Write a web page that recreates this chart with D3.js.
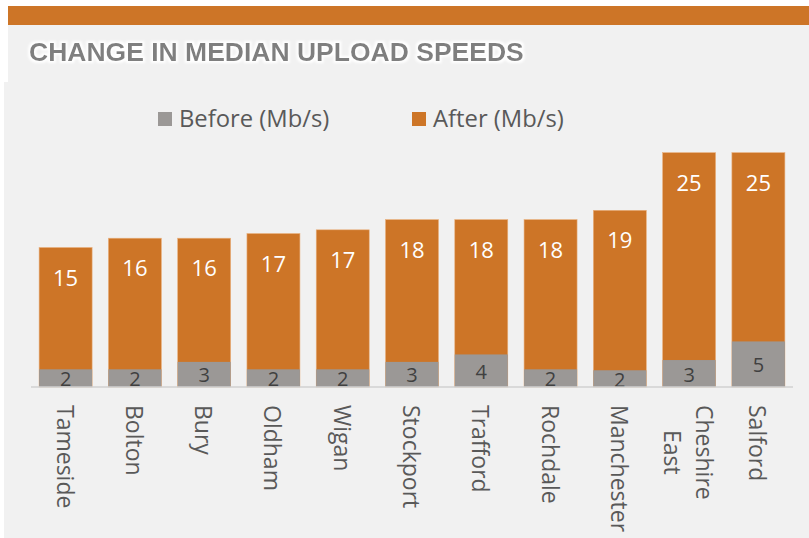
<!DOCTYPE html>
<html>
<head>
<meta charset="utf-8">
<script src="https://cdn.jsdelivr.net/npm/d3@7"></script>
<style>
  html, body { margin: 0; padding: 0; background: #fff; }
  svg { display: block; }
</style>
</head>
<body>
<div id="chart"></div>
<script>
const WIDTH = 809;
const HEIGHT = 538;

const areas = ['Tameside', 'Bolton', 'Bury', 'Oldham', 'Wigan', 'Stockport',
  'Trafford', 'Rochdale', 'Manchester', 'Cheshire East', 'Salford'];
const before = [1.9, 1.9, 2.7, 1.9, 1.9, 2.7, 3.5, 1.9, 1.8, 2.9, 4.9];
const after = [15.0, 16.0, 16.0, 16.5, 16.9, 18.0, 18.0, 18.0, 19.0, 25.2, 25.2];
const seriesNames = ['Before (Mb/s)', 'After (Mb/s)'];
const title = 'CHANGE IN MEDIAN UPLOAD SPEEDS';

const ORANGE = '#cd7527';
const GREY = '#9b9896';
const PANEL = '#f1f1f1';
const FONT = "'Open Sans', 'Noto Sans', sans-serif";

const rows = areas.map((name, i) => ({ name, before: before[i], after: after[i] }));

const svg = d3.select('#chart').append('svg')
  .attr('width', WIDTH)
  .attr('height', HEIGHT);

// header: orange strip + title panel
svg.append('rect').attr('x', 8).attr('y', 6).attr('width', WIDTH - 8).attr('height', 19).attr('fill', ORANGE);
svg.append('rect').attr('x', 8).attr('y', 25).attr('width', WIDTH - 8).attr('height', 57).attr('fill', PANEL);

const defs = svg.append('defs');
const glow = defs.append('filter').attr('id', 'glow').attr('x', '-5%').attr('y', '-30%').attr('width', '110%').attr('height', '160%');
glow.append('feMorphology').attr('in', 'SourceAlpha').attr('operator', 'dilate').attr('radius', 1.5).attr('result', 'd');
glow.append('feGaussianBlur').attr('in', 'd').attr('stdDeviation', 1.2).attr('result', 'b');
glow.append('feFlood').attr('flood-color', '#ffffff');
glow.append('feComposite').attr('in2', 'b').attr('operator', 'in').attr('result', 's');
const merge = glow.append('feMerge');
merge.append('feMergeNode').attr('in', 's');
merge.append('feMergeNode').attr('in', 'SourceGraphic');

svg.append('text')
  .attr('x', 29).attr('y', 61)
  .attr('font-family', "'Liberation Sans', Arial, sans-serif")
  .attr('font-weight', 'bold')
  .attr('font-size', 26.5)
  .attr('fill', '#7f7f7f')
  .attr('filter', 'url(#glow)')
  .text(title);

// chart panel
svg.append('rect').attr('x', 4).attr('y', 82).attr('width', WIDTH - 4).attr('height', HEIGHT - 82).attr('fill', PANEL);

const x = d3.scaleBand()
  .domain(areas)
  .range([31, 793])
  .paddingInner(0.235)
  .paddingOuter(0.117);

const y = d3.scaleLinear()
  .domain([0, 30])
  .range([387, 108]);

// legend
const legend = svg.append('g').attr('font-family', FONT).attr('font-size', 23.8).attr('fill', '#595959');
const legendX = [158, 412];
seriesNames.forEach((s, i) => {
  const g = legend.append('g').attr('transform', `translate(${legendX[i]},112)`);
  g.append('rect').attr('width', 14).attr('height', 14).attr('fill', i === 0 ? GREY : ORANGE);
  g.append('text').attr('x', 21).attr('y', 15).text(s);
});

// bars
const bars = svg.append('g');
bars.selectAll('rect.after')
  .data(rows)
  .join('rect')
  .attr('class', 'after')
  .attr('x', d => x(d.name))
  .attr('width', x.bandwidth())
  .attr('y', d => y(d.after))
  .attr('height', d => y(0) - y(d.after))
  .attr('fill', ORANGE)
  .attr('stroke', '#e9b17f')
  .attr('stroke-width', 0.6);

bars.selectAll('rect.before')
  .data(rows)
  .join('rect')
  .attr('class', 'before')
  .attr('x', d => x(d.name))
  .attr('width', x.bandwidth())
  .attr('y', d => y(d.before))
  .attr('height', d => y(0) - y(d.before))
  .attr('fill', GREY);

// value labels
bars.selectAll('text.after')
  .data(rows)
  .join('text')
  .attr('class', 'after')
  .attr('x', d => x(d.name) + x.bandwidth() / 2)
  .attr('y', d => y(d.after) + 38)
  .attr('text-anchor', 'middle')
  .attr('font-family', FONT)
  .attr('font-size', 22)
  .attr('fill', '#ffffff')
  .text(d => d.after.toFixed(0));

defs.append('clipPath').attr('id', 'plotclip')
  .append('rect').attr('x', 0).attr('y', 0).attr('width', WIDTH).attr('height', y(0));

bars.append('g').attr('clip-path', 'url(#plotclip)')
  .selectAll('text')
  .data(rows)
  .join('text')
  .attr('x', d => x(d.name) + x.bandwidth() / 2)
  .attr('y', d => (y(d.before) + y(0)) / 2 + 8)
  .attr('text-anchor', 'middle')
  .attr('font-family', FONT)
  .attr('font-size', 20)
  .attr('fill', '#404040')
  .text(d => d.before.toFixed(0));

// x axis
const axis = svg.append('g')
  .attr('transform', `translate(0,${y(0)})`)
  .call(d3.axisBottom(x).tickSize(0).tickPadding(0));
axis.select('.domain').attr('stroke', '#d0d0d0').attr('stroke-width', 1.5)
  .attr('d', `M31,0H793`);
axis.selectAll('.tick text').remove();
axis.selectAll('.tick').each(function(d) {
  const words = d.split(' ');
  const t = d3.select(this).append('text')
    .attr('transform', 'translate(0,18) rotate(90)')
    .attr('font-family', FONT)
    .attr('font-size', 23)
    .attr('fill', '#595959')
    .attr('text-anchor', 'start')
    .attr('dominant-baseline', 'central');
  const spans = words.map((w, i) => t.append('tspan')
    .attr('x', 0)
    .attr('y', (i - (words.length - 1) / 2) * 32)
    .text(w));
  // lines of a wrapped label are centred on the longest one
  const lens = spans.map(s => s.node().getComputedTextLength());
  const maxLen = d3.max(lens);
  spans.forEach((s, i) => s.attr('x', (maxLen - lens[i]) / 2));
});
</script>
</body>
</html>
